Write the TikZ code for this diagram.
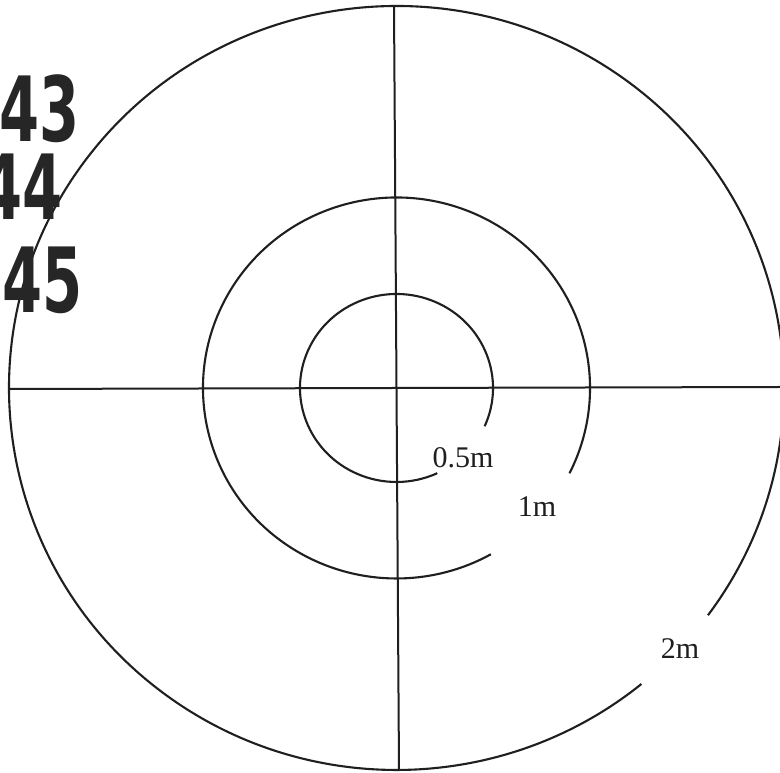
\documentclass[tikz,border=0pt]{standalone}
\usepackage{fontspec}
\setmainfont{Liberation Serif}
\newfontfamily\handfont{DejaVu Sans}
\begin{document}
\begin{tikzpicture}[x=1pt,y=1pt,
  ring/.style={line width=2.1pt,draw=black!88},
  axis/.style={line width=2pt,draw=black!88},
  dist/.style={font=\fontsize{30}{36}\selectfont,text=black!88,inner sep=0pt},
  hand/.style={font=\handfont\bfseries\fontsize{90}{94}\selectfont,text=black!85,xscale=0.64,transform shape,inner sep=0pt,anchor=east}]
\useasboundingbox (0,0) rectangle (780,773);
\fill[white] (0,0) rectangle (780,773);
\coordinate (c) at (396.5,385);
% rings with gaps
\draw[ring] ([shift={(-24:96.5pt and 94pt)}]c) arc[start angle=-24,end angle=295,x radius=96.5,y radius=94];
\draw[ring] ([shift={(-26.6:193.5pt and 190.5pt)}]c) arc[start angle=-26.6,end angle=299.2,x radius=193.5,y radius=190.5];
\draw[ring] ([shift={(-36.5:387.5pt and 382pt)}]c) arc[start angle=-36.5,end angle=309.2,x radius=387.5,y radius=382];
% axes
\coordinate (l) at (9,384);
\coordinate (r) at (782,386);
\coordinate (t) at (394,767);
\coordinate (b) at (399,3);
\draw[axis] (l) -- (r);
\draw[axis] (t) -- (b);
% labels
\node[dist] (half) at (463,315) {0.5m};
\node[dist] (one) at (537,266) {1m};
\node[dist] (two) at (680,124) {2m};
% handwritten numbers
\node[hand] (n43) at (80,664) {43};
\node[hand] (n44) at (63,586) {44};
\node[hand] (n45) at (83,493) {45};
\end{tikzpicture}
\end{document}
